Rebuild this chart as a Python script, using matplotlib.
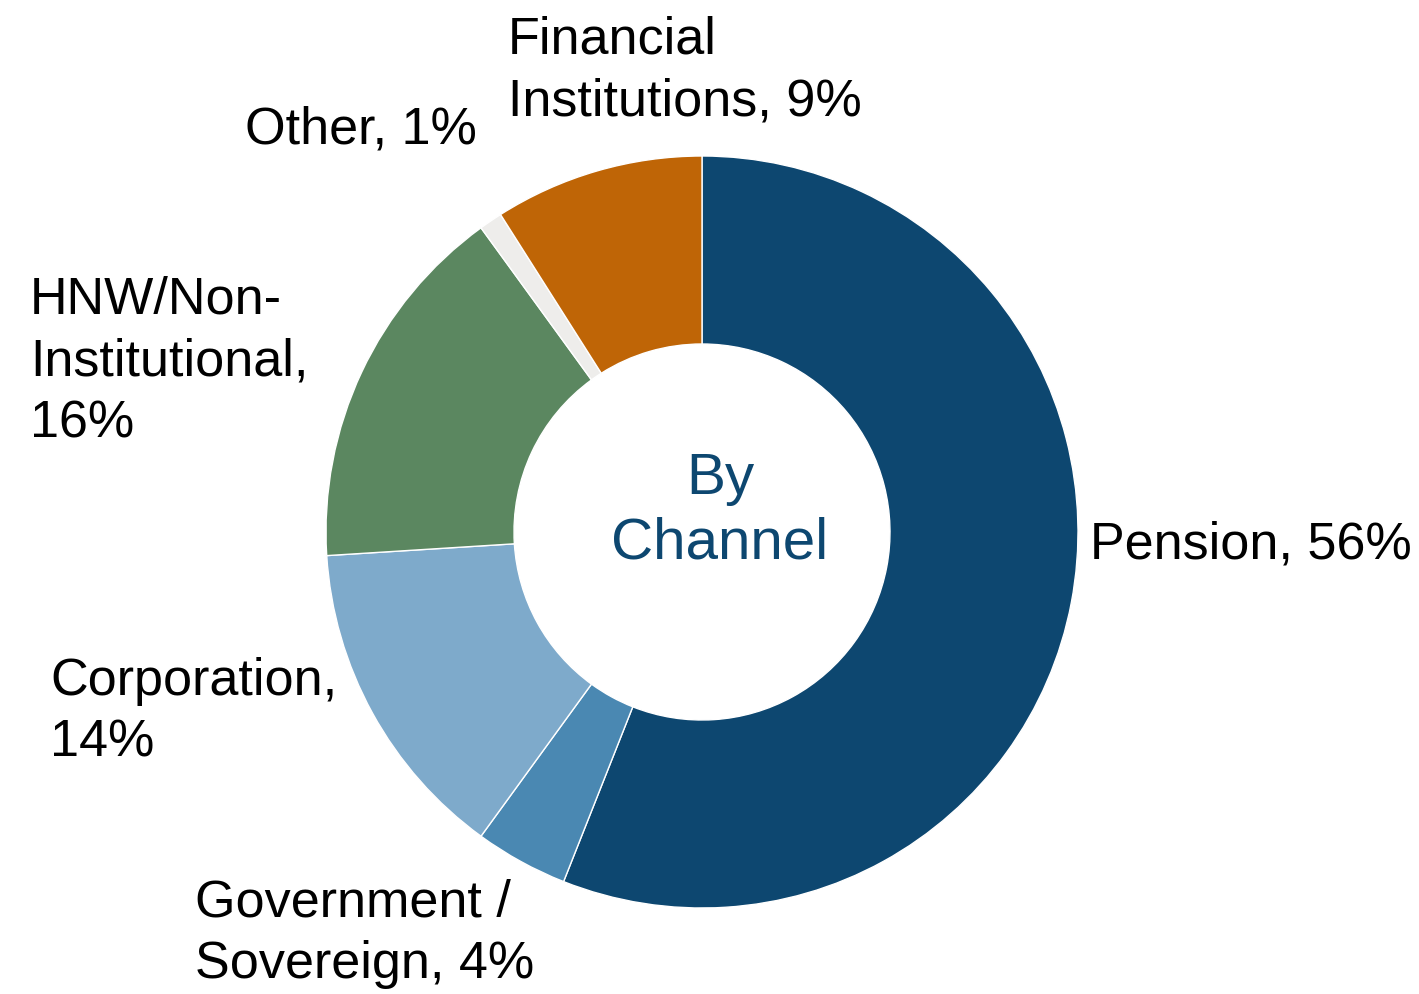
import matplotlib.pyplot as plt

plt.rcParams['font.family'] = ['Liberation Sans', 'DejaVu Sans']

# channel breakdown, clockwise from 12 o'clock
channels = ['Pension', 'Government /\nSovereign', 'Corporation', 'HNW/Non-\nInstitutional', 'Other',
            'Financial\nInstitutions']
shares = [56, 4, 14, 16, 1, 9]
colors = ['#0d4770', '#4a88b2', '#7eaacb', '#5b8760', '#eeedeb', '#bf6506']
label_text = ['Pension, 56%', 'Government /\nSovereign, 4%', 'Corporation,\n14%',
              'HNW/Non-\nInstitutional,\n16%', 'Other, 1%', 'Financial\nInstitutions, 9%']
# left edge / vertical centre of each label block, in units of the outer radius
label_pos = [(1.032, -0.035), (-1.348, -1.069), (-1.734, -0.479),
             (-1.787, 0.452), (-1.215, 1.069), (-0.516, 1.225)]

fig = plt.figure(figsize=(14.19, 9.94), dpi=100)
ax = fig.add_axes([0, 0, 1, 1])

ax.pie(shares, colors=colors, startangle=90, counterclock=False, radius=1.0,
       wedgeprops=dict(width=0.5, edgecolor='white', linewidth=1.0))

for txt, (x, y) in zip(label_text, label_pos):
    ax.text(x, y, txt, ha='left', va='center', fontsize=37.5, color='black', linespacing=1.34)

ax.text(0.048, 0.056, 'By\nChannel', ha='center', va='center', fontsize=42,
        color='#0d4770', linespacing=1.25)

ax.set_xlim(-702 / 376, (1419 - 702) / 376)
ax.set_ylim((532 - 994) / 376, 532 / 376)
ax.set_aspect('equal')
ax.axis('off')

fig.savefig('out.png', dpi=100, facecolor='white')
